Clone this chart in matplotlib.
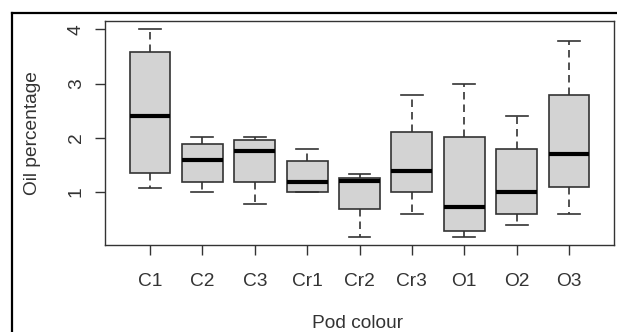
import matplotlib
matplotlib.use("Agg")
import matplotlib.pyplot as plt
from matplotlib.lines import Line2D

plt.rcParams['font.family'] = ['Liberation Sans', 'DejaVu Sans']

categories = ["C1", "C2", "C3", "Cr1", "Cr2", "Cr3", "O1", "O2", "O3"]
whisker_low = [1.07, 1.00, 0.78, 1.00, 0.18, 0.59, 0.18, 0.39, 0.59]
q1 = [1.35, 1.19, 1.19, 1.00, 0.69, 1.00, 0.29, 0.59, 1.09]
median = [2.41, 1.59, 1.76, 1.19, 1.20, 1.39, 0.72, 1.00, 1.70]
q3 = [3.59, 1.89, 1.97, 1.58, 1.26, 2.10, 2.01, 1.80, 2.79]
whisker_high = [4.00, 2.02, 2.02, 1.80, 1.33, 2.79, 2.99, 2.40, 3.79]
y_ticks = [1, 2, 3, 4]

stats = []
for name, wl, a, m, b, wh in zip(categories, whisker_low, q1, median, q3, whisker_high):
    stats.append(dict(label=name, whislo=wl, q1=a, med=m, q3=b, whishi=wh, fliers=[]))

W, H = 617, 332
fig = plt.figure(figsize=(W / 100, H / 100), dpi=100)
ax = fig.add_axes([105 / W, 1 - 245 / H, (614 - 105) / W, (245 - 21) / H])

edge = "#333333"
txt = "#333333"
fs = 13.8
ax.bxp(stats, positions=range(1, len(categories) + 1), widths=0.78,
       patch_artist=True, showfliers=False,
       boxprops=dict(facecolor="#d3d3d3", edgecolor=edge, linewidth=1.2),
       medianprops=dict(color="black", linewidth=3, solid_capstyle="butt"),
       whiskerprops=dict(color=edge, linewidth=1.2, linestyle=(0, (4.5, 3))),
       capprops=dict(color=edge, linewidth=1.2),
       capwidths=0.42)

n = len(categories)
ax.set_xlim(0.5 - 0.04 * n, n + 0.5 + 0.04 * n)
lo, hi = min(whisker_low), max(whisker_high)
r = hi - lo
ax.set_ylim(lo - 0.04 * r, hi + 0.04 * r)

ax.set_yticks(y_ticks)
ax.set_yticklabels([str(t) for t in y_ticks], rotation=90, va="center")
ax.set_xticks(range(1, n + 1))
ax.set_xticklabels(categories)
ax.tick_params(axis="both", length=7.5, width=1.0, color=edge, labelsize=fs,
               labelcolor=txt)
ax.tick_params(axis="x", pad=13)
ax.tick_params(axis="y", pad=7)
for s in ax.spines.values():
    s.set_color(edge)
    s.set_linewidth(1.0)

ax.set_ylabel("Oil percentage", fontsize=fs, color=txt, labelpad=19)
fig.text(358 / W, 1 - 324 / H, "Pod colour", fontsize=fs, color=txt,
         ha="center", va="center")

# outer frame lines (top and left)
fig.add_artist(Line2D([12 / W, 1.0], [1 - 13 / H, 1 - 13 / H], transform=fig.transFigure,
                      color="black", linewidth=1.6))
fig.add_artist(Line2D([12 / W, 12 / W], [0.0, 1 - 13 / H], transform=fig.transFigure,
                      color="black", linewidth=1.6))

fig.savefig("out.png", dpi=100)
